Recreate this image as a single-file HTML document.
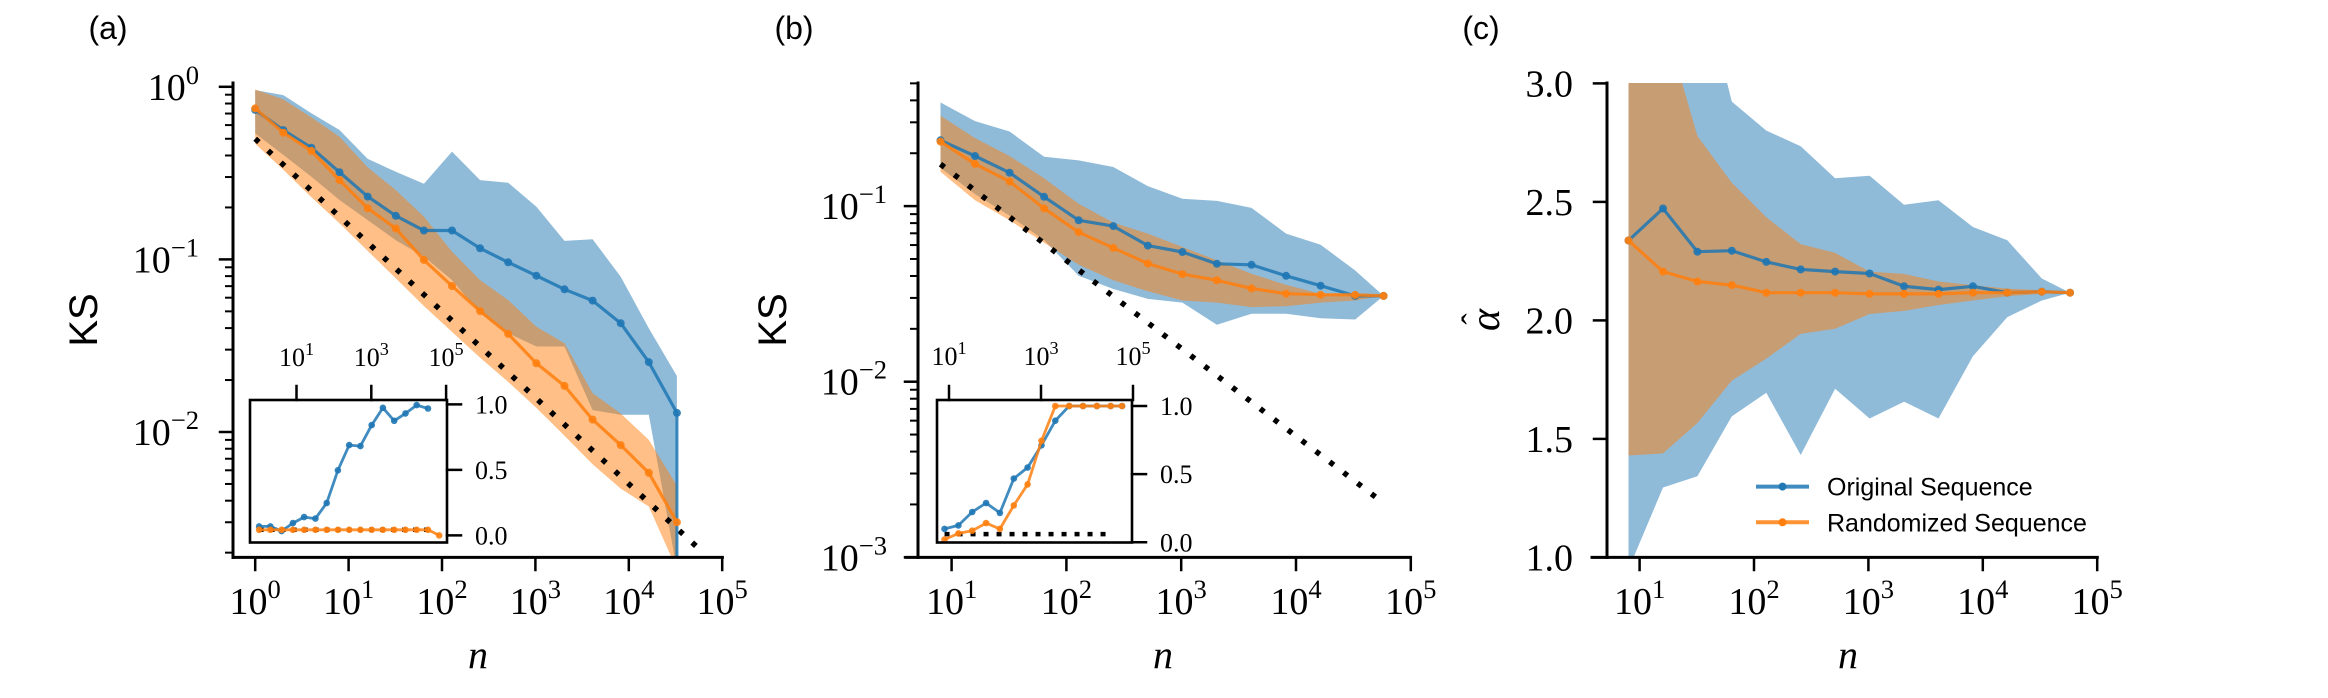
<!DOCTYPE html>
<html><head><meta charset="utf-8"><style>
html,body{margin:0;padding:0;background:#fff;}
svg{display:block;}
</style></head>
<body>
<svg id="fig" xmlns="http://www.w3.org/2000/svg" width="2328" height="698" viewBox="0 0 2328 698">
<defs>
<clipPath id="clipA"><rect x="233" y="83" width="489" height="474.5"/></clipPath>
<clipPath id="clipB"><rect x="906" y="83" width="504" height="474.5"/></clipPath>
<clipPath id="clipC"><rect x="1592" y="83" width="505" height="474.5"/></clipPath>
<clipPath id="clipIA"><rect x="250" y="400" width="197" height="142.5"/></clipPath>
<clipPath id="clipIB"><rect x="937" y="400" width="195" height="142.5"/></clipPath>
</defs>
</svg>
<script>
// ---------- data: panel (a) ----------
const aN = [1,2,4,8,16,32,64,128,256,512,1024,2048,4096,8192,16384,32768];
const aBlue = [0.735,0.561,0.444,0.320,0.231,0.179,0.147,0.147,0.116,0.0962,0.0805,0.0671,0.0577,0.0427,0.0254,0.0129];
const aBlueHi = [0.957,0.895,0.703,0.562,0.382,0.322,0.274,0.421,0.288,0.278,0.202,0.128,0.131,0.0794,0.0399,0.0211];
const aBlueLo = [0.537,0.403,0.301,0.221,0.169,0.129,0.104,0.0759,0.0488,0.0373,0.0313,0.0313,0.0134,0.0126,0.0126,0.0016];
const aOrange = [0.750,0.542,0.425,0.288,0.198,0.151,0.0993,0.0701,0.0502,0.0370,0.0250,0.0185,0.0118,0.0084,0.0058,0.0030];
const aOrangeHi = [0.965,0.845,0.665,0.514,0.341,0.252,0.177,0.111,0.0759,0.0581,0.0407,0.0327,0.0168,0.0128,0.0090,0.0049];
const aOrangeLo = [0.468,0.331,0.229,0.162,0.112,0.0776,0.0537,0.038,0.0269,0.0195,0.0138,0.0095,0.0065,0.0047,0.0037,0.0016];
const refN = [1,56000];
const refCoefA = 0.5;
// inset (a)
const iaN = [1,2,4,8,16,32,64,128,256,512,1024,2048,4096,8192,16384,32768];
const iaBlue = [0.069,0.069,0.033,0.094,0.140,0.128,0.247,0.497,0.689,0.682,0.842,0.974,0.875,0.931,0.995,0.969];
const iaOrangeN = [1,2,4,8,16,32,64,128,256,512,1024,2048,4096,8192,16384,32768,65536];
const iaOrange = [0.043,0.043,0.043,0.043,0.043,0.043,0.043,0.043,0.043,0.043,0.043,0.043,0.043,0.043,0.043,0.043,0.0];
const iaRef = [0.043,0.043];
const iaRefN = [1,32768];
// ---------- data: panel (b) ----------
const bN = [8,16,32,64,128,256,512,1024,2048,4096,8192,16384,32768,58000];
const bBlue = [0.237,0.193,0.155,0.113,0.0830,0.0769,0.0596,0.0548,0.0469,0.0463,0.0401,0.0352,0.0308,0.0308];
const bBlueHi = [0.389,0.305,0.266,0.191,0.182,0.167,0.130,0.110,0.107,0.0977,0.0697,0.0603,0.0430,0.0308];
const bBlueLo = [0.165,0.117,0.088,0.064,0.0401,0.0337,0.0296,0.0282,0.0211,0.0244,0.0244,0.0230,0.0226,0.0308];
const bOrange = [0.233,0.174,0.138,0.0970,0.0710,0.0578,0.0471,0.0410,0.0378,0.0340,0.0317,0.0313,0.0312,0.0308];
const bOrangeHi = [0.327,0.244,0.193,0.144,0.103,0.0805,0.0697,0.0585,0.0491,0.0412,0.0356,0.0317,0.0317,0.0308];
const bOrangeLo = [0.157,0.108,0.083,0.0619,0.0463,0.0378,0.0327,0.0290,0.0282,0.0266,0.0269,0.0282,0.0290,0.0308];
const refNB = [8,52000];
const refCoefB = 0.49;
const ibBlue = [0.098,0.124,0.222,0.288,0.216,0.467,0.549,0.712,0.892,1.0,1.0,1.0,1.0,1.0];
const ibOrange = [0.02,0.065,0.085,0.141,0.098,0.271,0.425,0.745,1.0,1.0,1.0,1.0,1.0,1.0];
const ibRef = [0.06,0.06];
const ibRefN = [8,32768];
// ---------- data: panel (c) ----------
const cN = [8,16,32,64,128,256,512,1024,2048,4096,8192,16384,32768,58000];
const cBlue = [2.337,2.472,2.290,2.294,2.247,2.215,2.206,2.198,2.144,2.130,2.144,2.117,2.121,2.117];
const cBlueHi = [3.6,3.6,3.5,2.923,2.801,2.735,2.600,2.610,2.488,2.507,2.394,2.338,2.177,2.117];
const cBlueLo = [0.95,1.295,1.342,1.595,1.695,1.432,1.712,1.586,1.657,1.586,1.849,2.014,2.084,2.117];
const cOrange = [2.337,2.206,2.164,2.149,2.117,2.117,2.117,2.112,2.112,2.112,2.117,2.117,2.121,2.117];
const cOrangeHi = [3.8,3.28,2.778,2.581,2.435,2.322,2.285,2.206,2.196,2.164,2.149,2.134,2.127,2.117];
const cOrangeLo = [1.430,1.439,1.567,1.746,1.839,1.943,1.965,2.027,2.040,2.065,2.084,2.102,2.112,2.117];
// ticks
const aXTicks = [0,1,2,3,4,5];
const aYTicks = [0,-1,-2];
const bXTicks = [1,2,3,4,5];
const bYTicks = [-1,-2,-3];
const cXTicks = [1,2,3,4,5];
const cYTicks = [1.0,1.5,2.0,2.5,3.0];
const insetXTicks = [1,3,5];
const insetYTicks = [0.0,0.5,1.0];
const legendLabels = ['Original Sequence','Randomized Sequence'];

const NS = 'http://www.w3.org/2000/svg';
const SERIF = '"Liberation Serif", "DejaVu Serif", serif';
const SANS = '"Liberation Sans", "DejaVu Sans", sans-serif';
const BLUE = '#1f77b4', ORANGE = '#ff7f0e';
const svg = document.getElementById('fig');
const L = Math.log10;

function el(tag, attrs, parent) {
  const e = document.createElementNS(NS, tag);
  for (const k in attrs) e.setAttribute(k, attrs[k]);
  parent.appendChild(e);
  return e;
}
// scales
const xa = n => 255.2 + 93.4 * L(n);
const ya = v => 86.8 - 172.6 * L(v);
const xb = n => 951.6 + 114.8 * (L(n) - 1);
const yb = v => 206.1 - 175.6 * (L(v) + 1);
const xc = n => 1639.6 + 114.4 * (L(n) - 1);
const yc = v => 557.4 - 237 * (v - 1);
const xia = n => 296.5 + 37.4 * (L(n) - 1);
const yia = v => 535.4 - 131 * v;
const xib = n => 949 + 46 * (L(n) - 1);
const yib = v => 542.3 - 136.3 * v;

function band(g, xs, lo, hi, X, Y, color, name) {
  let d = xs.map((n, i) => (i ? 'L' : 'M') + X(n).toFixed(1) + ',' + Y(hi[i]).toFixed(1)).join('');
  for (let i = xs.length - 1; i >= 0; i--) d += 'L' + X(xs[i]).toFixed(1) + ',' + Y(lo[i]).toFixed(1);
  const p = el('path', {d: d + 'Z', fill: color, 'fill-opacity': 0.5, stroke: 'none'}, g);
  
  
}
function series(g, xs, ys, X, Y, color, name, w, r) {
  const pts = xs.map((n, i) => X(n).toFixed(1) + ',' + Y(ys[i]).toFixed(1)).join(' ');
  const pl = el('polyline', {points: pts, fill: 'none', stroke: color, 'stroke-width': w, 'stroke-opacity': 0.85, 'stroke-linejoin': 'round'}, g);
  
  
  xs.forEach((n, i) => {
    const c = el('circle', {cx: X(n).toFixed(1), cy: Y(ys[i]).toFixed(1), r: r, fill: color, 'fill-opacity': 0.9}, g);
    
    
  });
}
function dotted(g, x1, y1, x2, y2, dash, w, name) {
  const l = el('line', {x1, y1, x2, y2, stroke: '#000', 'stroke-width': w, 'stroke-dasharray': dash}, g);
  
  
}
function line(g, x1, y1, x2, y2, w, name) {
  const l = el('line', {x1, y1, x2, y2, stroke: '#000', 'stroke-width': w, 'stroke-linecap': 'square'}, g);
  
  
  return l;
}
function txt(g, x, y, s, size, anchor, family, name, extra) {
  const t = el('text', Object.assign({x, y, 'font-size': size, 'text-anchor': anchor, 'font-family': family, fill: '#000'}, extra || {}), g);
  t.textContent = s;
  
  
  return t;
}
function powLabel(g, x, y, exp, size, anchor, name) {
  const t = el('text', {x, y, 'font-size': size, 'text-anchor': anchor, 'font-family': SERIF, fill: '#000'}, g);
  t.appendChild(document.createTextNode('10'));
  const s = el('tspan', {dy: -size * 0.42, 'font-size': size * 0.7}, t);
  s.textContent = exp < 0 ? '\u2212' + (-exp) : String(exp);
  
  
}
function logYAxis(g, xSpine, Y, lo, hi, majors, rightEdge, name) {
  for (let d = Math.floor(lo) ; d <= Math.ceil(hi); d++) {
    for (let m = 1; m <= 9; m++) {
      const lv = d + L(m);
      if (lv < lo - 1e-9 || lv > hi + 1e-9) continue;
      const y = Y(Math.pow(10, lv));
      line(g, xSpine - (m === 1 ? 13 : 7), y, xSpine, y, m === 1 ? 2.5 : 2, name + (m === 1 ? '-major-tick' : '-minor-tick'));
    }
  }
  majors.forEach(e => powLabel(g, rightEdge, Y(Math.pow(10, e)) + 13, e, 38, 'end', name + '-tick-label'));
}

// ===== Panel (a) =====
const gA = el('g', {}, svg);


const gAp = el('g', {'clip-path': 'url(#clipA)'}, gA);
band(gAp, aN, aBlueLo, aBlueHi, xa, ya, BLUE, 'original-band');
band(gAp, aN, aOrangeLo, aOrangeHi, xa, ya, ORANGE, 'randomized-band');
dotted(gAp, xa(refN[0]), ya(refCoefA / Math.sqrt(refN[0])), xa(refN[1]), ya(refCoefA / Math.sqrt(refN[1])), '5 12.5', 5.5, 'reference-line');
series(gAp, aN, aBlue, xa, ya, BLUE, 'original', 3.2, 4);
const vdrop = el('line', {x1: xa(aN[15]), y1: ya(aBlue[15]), x2: xa(aN[15]), y2: 560, stroke: BLUE, 'stroke-width': 3, 'stroke-opacity': 0.85}, gAp);


series(gAp, aN, aOrange, xa, ya, ORANGE, 'randomized', 3.2, 4);
line(gA, 233, 83, 233, 557.4, 3, 'y-axis-spine');
line(gA, 233, 557.4, 722.4, 557.4, 3, 'x-axis-spine');
logYAxis(gA, 233, ya, -2.727, 0.022, aYTicks, 199, 'y-axis');
aXTicks.forEach(e => {
  const x = xa(Math.pow(10, e));
  line(gA, x, 557.4, x, 570, 2.5, 'x-axis-tick');
  powLabel(gA, x, 614, e, 38, 'middle', 'x-axis-tick-label');
});
txt(gA, 0, 0, 'KS', 40, 'middle', SANS, 'y-axis-title', {transform: 'translate(97,320) rotate(-90)'});
txt(gA, 478, 668, 'n', 40, 'middle', SERIF, 'x-axis-title', {'font-style': 'italic'});
txt(gA, 108, 39, '(a)', 32, 'middle', SANS, 'panel-label');
// inset a
const gIA = el('g', {}, gA);


const bgA = el('rect', {x: 250, y: 400, width: 197, height: 142.5, fill: '#fff', stroke: 'none'}, gIA);


const gIAp = el('g', {'clip-path': 'url(#clipIA)'}, gIA);
dotted(gIAp, xia(iaRefN[0]), yia(iaRef[0]), xia(iaRefN[1]), yia(iaRef[1]), '4.5 6.5', 4.5, 'inset-reference-line');
series(gIAp, iaN, iaBlue, xia, yia, BLUE, 'inset-original', 2.8, 3.3);
series(gIAp, iaOrangeN, iaOrange, xia, yia, ORANGE, 'inset-randomized', 2.8, 3.3);
const frA = el('rect', {x: 250, y: 400, width: 197, height: 142.5, fill: 'none', stroke: '#000', 'stroke-width': 2.6}, gIA);


insetXTicks.forEach(e => {
  const x = xia(Math.pow(10, e));
  line(gIA, x, 386, x, 400, 2.5, 'inset-x-tick');
  powLabel(gIA, x, 366, e, 26, 'middle', 'inset-x-tick-label');
});
insetYTicks.forEach(v => {
  const y = yia(v);
  line(gIA, 447, y, 461, y, 2.5, 'inset-y-tick');
  txt(gIA, 475, y + 9, v.toFixed(1), 26, 'start', SERIF, 'inset-y-tick-label');
});

// ===== Panel (b) =====
const gB = el('g', {}, svg);


const gBp = el('g', {'clip-path': 'url(#clipB)'}, gB);
band(gBp, bN, bBlueLo, bBlueHi, xb, yb, BLUE, 'original-band');
band(gBp, bN, bOrangeLo, bOrangeHi, xb, yb, ORANGE, 'randomized-band');
dotted(gBp, xb(refNB[0]), yb(refCoefB / Math.sqrt(refNB[0])), xb(refNB[1]), yb(refCoefB / Math.sqrt(refNB[1])), '5 12.5', 5.5, 'reference-line');
series(gBp, bN, bBlue, xb, yb, BLUE, 'original', 3.2, 4);
series(gBp, bN, bOrange, xb, yb, ORANGE, 'randomized', 3.2, 4);
line(gB, 918, 83, 918, 557.4, 3, 'y-axis-spine');
line(gB, 906, 557.4, 1410.3, 557.4, 3, 'x-axis-spine');
logYAxis(gB, 918, yb, -3, -0.299, bYTicks, 887, 'y-axis');
bXTicks.forEach(e => {
  const x = xb(Math.pow(10, e));
  line(gB, x, 557.4, x, 570, 2.5, 'x-axis-tick');
  powLabel(gB, x, 614, e, 38, 'middle', 'x-axis-tick-label');
});
txt(gB, 0, 0, 'KS', 40, 'middle', SANS, 'y-axis-title', {transform: 'translate(786,320) rotate(-90)'});
txt(gB, 1163, 668, 'n', 40, 'middle', SERIF, 'x-axis-title', {'font-style': 'italic'});
txt(gB, 794, 39, '(b)', 32, 'middle', SANS, 'panel-label');
const gIB = el('g', {}, gB);


const bgB = el('rect', {x: 937, y: 400, width: 195, height: 142.5, fill: '#fff', stroke: 'none'}, gIB);


const gIBp = el('g', {'clip-path': 'url(#clipIB)'}, gIB);
dotted(gIBp, xib(ibRefN[0]), yib(ibRef[0]), xib(ibRefN[1]), yib(ibRef[1]), '5 8', 4.5, 'inset-reference-line');
series(gIBp, bN, ibBlue, xib, yib, BLUE, 'inset-original', 2.8, 3.3);
series(gIBp, bN, ibOrange, xib, yib, ORANGE, 'inset-randomized', 2.8, 3.3);
const frB = el('rect', {x: 937, y: 400, width: 195, height: 142.5, fill: 'none', stroke: '#000', 'stroke-width': 2.6}, gIB);


insetXTicks.forEach(e => {
  const x = xib(Math.pow(10, e));
  line(gIB, x, 386, x, 400, 2.5, 'inset-x-tick');
  powLabel(gIB, x, 365, e, 26, 'middle', 'inset-x-tick-label');
});
insetYTicks.forEach(v => {
  const y = yib(v);
  line(gIB, 1132, y, 1146, y, 2.5, 'inset-y-tick');
  txt(gIB, 1160, y + 9, v.toFixed(1), 26, 'start', SERIF, 'inset-y-tick-label');
});

// ===== Panel (c) =====
const gC = el('g', {}, svg);


const gCp = el('g', {'clip-path': 'url(#clipC)'}, gC);
band(gCp, cN, cBlueLo, cBlueHi, xc, yc, BLUE, 'original-band');
band(gCp, cN, cOrangeLo, cOrangeHi, xc, yc, ORANGE, 'randomized-band');
series(gCp, cN, cBlue, xc, yc, BLUE, 'original', 3.2, 4);
series(gCp, cN, cOrange, xc, yc, ORANGE, 'randomized', 3.2, 4);
line(gC, 1607, 83, 1607, 557.4, 3, 'y-axis-spine');
line(gC, 1592, 557.4, 2097.3, 557.4, 3, 'x-axis-spine');
cYTicks.forEach(v => {
  const y = yc(v);
  line(gC, 1594, y, 1607, y, 2.5, 'y-axis-tick');
  txt(gC, 1573, y + 13, v.toFixed(1), 38, 'end', SERIF, 'y-axis-tick-label');
});
cXTicks.forEach(e => {
  const x = xc(Math.pow(10, e));
  line(gC, x, 557.4, x, 570, 2.5, 'x-axis-tick');
  powLabel(gC, x, 614, e, 38, 'middle', 'x-axis-tick-label');
});
const gAlpha = el('g', {transform: 'translate(1499,320) rotate(-90)'}, gC);


txt(gAlpha, 0, 0, '\u03B1', 42, 'middle', SERIF, 'alpha-symbol', {'font-style': 'italic'});
txt(gAlpha, 1, -14, '\u02C6', 34, 'middle', SERIF, 'alpha-hat');
txt(gC, 1848, 668, 'n', 40, 'middle', SERIF, 'x-axis-title', {'font-style': 'italic'});
txt(gC, 1481, 39, '(c)', 32, 'middle', SANS, 'panel-label');
// legend
const gL = el('g', {}, gC);


[BLUE, ORANGE].forEach((col, i) => {
  const y = 486.6 + i * 35.7;
  const ln = el('line', {x1: 1756, y1: y, x2: 1809, y2: y, stroke: col, 'stroke-width': 4, 'stroke-opacity': 0.85}, gL);
  
  
  const dt = el('circle', {cx: 1782.5, cy: y, r: 4, fill: col}, gL);
  
  
  txt(gL, 1827, y + 9, legendLabels[i], 25, 'start', SANS, 'legend-entry');
});
</script>
</body></html>
